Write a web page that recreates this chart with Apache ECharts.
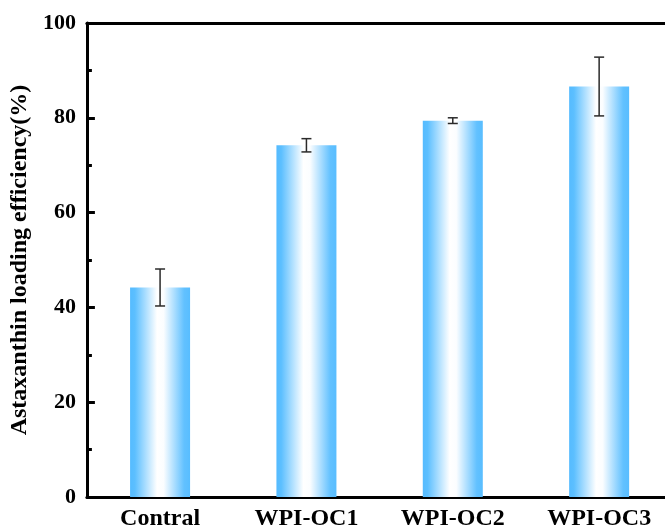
<!DOCTYPE html>
<html>
<head>
<meta charset="utf-8">
<script src="https://cdn.jsdelivr.net/npm/echarts@6/dist/echarts.min.js"></script>
<style>
  html, body { margin: 0; padding: 0; background: #fff; }
  #main { width: 665px; height: 531px; }
</style>
</head>
<body>
<div id="main"></div>
<script>
// data
var categories = ['Contral', 'WPI-OC1', 'WPI-OC2', 'WPI-OC3'];
var means = [44.2, 74.2, 79.4, 86.6];
var errors = [3.9, 1.4, 0.6, 6.2];
var yTicks = [0, 20, 40, 60, 80, 100];

var myChart = echarts.init(document.getElementById('main'));
var font = "'Liberation Serif', 'Times New Roman', serif";

var barColor = new echarts.graphic.LinearGradient(0, 0, 1, 0, [
    {offset: 0, color: '#55bbff'},
    {offset: 0.08, color: '#5cbfff'},
    {offset: 0.45, color: '#ffffff'},
    {offset: 0.56, color: '#fbfdff'},
    {offset: 0.9, color: '#62c1ff'},
    {offset: 1, color: '#58bdff'}
]);

var catIdx = [];
var barData = [];
var errData = [];
for (var i = 0; i < categories.length; i++) {
    catIdx.push(i);
    barData.push([i, means[i]]);
    errData.push([i, means[i] - errors[i], means[i] + errors[i]]);
}

// the original plot is cut off at the right edge, so the x range stops short of 3.5
var xMin = -0.5, xMax = 3.45;

option = {
    animation: false,
    grid: {
        left: 85,
        top: 23,
        right: 0,
        height: 474
    },
    xAxis: [
        {
            type: 'value',
            min: xMin,
            max: xMax,
            axisLine: {show: true, onZero: false, lineStyle: {color: '#000', width: 3}},
            axisTick: {show: false},
            splitLine: {show: false},
            axisLabel: {
                customValues: catIdx,
                formatter: function (v) { return categories[Math.round(v)]; },
                color: '#000', fontFamily: font, fontWeight: 'bold',
                fontSize: 24, margin: 10
            }
        },
        {
            type: 'value',
            position: 'top',
            min: xMin,
            max: xMax,
            axisLine: {show: true, onZero: false, lineStyle: {color: '#000', width: 3}},
            axisTick: {show: false},
            splitLine: {show: false},
            axisLabel: {show: false}
        }
    ],
    yAxis: {
        type: 'value',
        min: yTicks[0],
        max: yTicks[yTicks.length - 1],
        interval: 20,
        name: 'Astaxanthin loading efficiency(%)',
        nameLocation: 'middle',
        nameGap: 53,
        nameTextStyle: {
            color: '#000', fontFamily: font, fontWeight: 'bold', fontSize: 24
        },
        axisLine: {show: true, onZero: false, lineStyle: {color: '#000', width: 3}},
        axisTick: {show: true, inside: true, length: 8, lineStyle: {color: '#000', width: 3}},
        minorTick: {show: true, splitNumber: 2, length: 5, lineStyle: {color: '#000', width: 3}},
        axisLabel: {
            color: '#000', fontFamily: font, fontWeight: 'bold',
            fontSize: 22, margin: 11
        },
        splitLine: {show: false}
    },
    series: [
        {
            type: 'bar',
            data: barData,
            barWidth: 60,
            itemStyle: {color: barColor}
        },
        {
            type: 'custom',
            data: errData,
            z: 5,
            renderItem: function (params, api) {
                var x = api.value(0);
                var lo = api.coord([x, api.value(1)]);
                var hi = api.coord([x, api.value(2)]);
                var half = 5;
                var style = {stroke: '#2a2a2a', lineWidth: 1.5};
                return {
                    type: 'group',
                    children: [
                        {type: 'line', shape: {x1: lo[0], y1: lo[1], x2: hi[0], y2: hi[1]}, style: style},
                        {type: 'line', shape: {x1: lo[0] - half, y1: lo[1], x2: lo[0] + half, y2: lo[1]}, style: style},
                        {type: 'line', shape: {x1: hi[0] - half, y1: hi[1], x2: hi[0] + half, y2: hi[1]}, style: style}
                    ]
                };
            }
        }
    ]
};

myChart.setOption(option);
</script>
</body>
</html>
